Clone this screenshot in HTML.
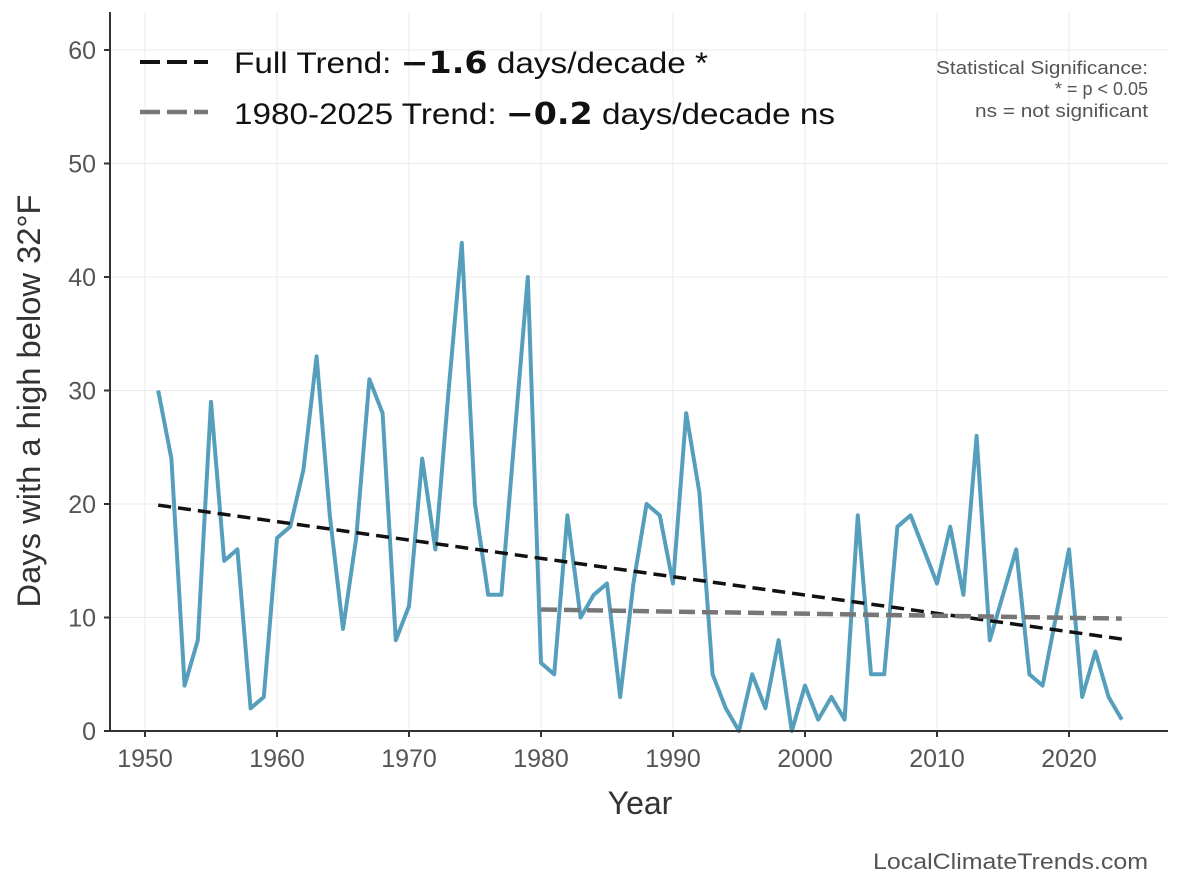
<!DOCTYPE html>
<html><head><meta charset="utf-8"><style>
body{margin:0;background:#fff}
svg{display:block;font-family:"Liberation Sans",Arial,sans-serif}
</style></head><body>
<svg id="s" width="1184" height="889" viewBox="0 0 1184 889" xmlns="http://www.w3.org/2000/svg">
<g id="grid" stroke="#ebebeb" stroke-width="1"></g>
<g id="ticks"></g>
<polyline id="data" fill="none" stroke="#559fbd" stroke-width="4" stroke-linejoin="round"/>
<line id="t1" stroke="#111" stroke-width="3.5" stroke-dasharray="13,7"/>
<line id="t2" stroke="#777" stroke-width="4.5" stroke-dasharray="16,7"/>
<line x1="110" y1="12" x2="110" y2="731" stroke="#333" stroke-width="2"/>
<line x1="110" y1="731" x2="1168" y2="731" stroke="#333" stroke-width="2"/>
<text x="640" y="814" font-size="32" fill="#333" text-anchor="middle">Year</text>
<text transform="translate(40,401) rotate(-90)" font-size="32" fill="#333" text-anchor="middle" textLength="413" lengthAdjust="spacingAndGlyphs">Days with a high below 32°F</text>
<line x1="140" y1="62" x2="208" y2="62" stroke="#111" stroke-width="4" stroke-dasharray="20,7"/>
<text x="234" y="73" font-size="30" fill="#111" textLength="474" lengthAdjust="spacingAndGlyphs">Full Trend: <tspan font-weight="bold" font-family="DejaVu Sans">−1.6</tspan> days/decade *</text>
<line x1="140" y1="112" x2="208" y2="112" stroke="#777" stroke-width="4.5" stroke-dasharray="20,7"/>
<text x="234" y="124" font-size="30" fill="#111" textLength="601" lengthAdjust="spacingAndGlyphs">1980-2025 Trend: <tspan font-weight="bold" font-family="DejaVu Sans">−0.2</tspan> days/decade ns</text>
<g font-size="18" fill="#555" text-anchor="end">
<text x="1148" y="74" textLength="212" lengthAdjust="spacingAndGlyphs">Statistical Significance:</text>
<text x="1148" y="95">* = p &lt; 0.05</text>
<text x="1148" y="117" textLength="173" lengthAdjust="spacingAndGlyphs">ns = not significant</text>
</g>
<text x="1148" y="869" font-size="22" fill="#555" text-anchor="end" textLength="275" lengthAdjust="spacingAndGlyphs">LocalClimateTrends.com</text>
</svg>
<script>
const X=y=>145+(y-1950)*13.2, Y=v=>731-v*11.35;
const d=[30,24,4,8,29,15,16,2,3,17,18,23,33,19,9,17,31,28,8,11,24,16,30,43,20,12,12,26,40,6,5,19,10,12,13,3,13,20,19,13,28,21,5,2,0,5,2,8,0,4,1,3,1,19,5,5,18,19,16,13,18,12,26,8,12,16,5,4,10,16,3,7,3,1];
document.getElementById('data').setAttribute('points',d.map((v,i)=>X(1951+i).toFixed(1)+','+Y(v).toFixed(1)).join(' '));
const ns='http://www.w3.org/2000/svg';
function el(t,a,p,txt){const e=document.createElementNS(ns,t);for(const k in a)e.setAttribute(k,a[k]);if(txt!=null)e.textContent=txt;p.appendChild(e);}
const g=document.getElementById('grid'),tk=document.getElementById('ticks');
for(let v=0;v<=60;v+=10){if(v>0)el('line',{x1:110,x2:1168,y1:Y(v),y2:Y(v)},g);
 el('line',{x1:104,x2:110,y1:Y(v),y2:Y(v),stroke:'#333','stroke-width':2},tk);
 el('text',{x:96,y:Y(v)+9,'font-size':25,fill:'#555','text-anchor':'end'},tk,v);}
for(let y=1950;y<=2020;y+=10){el('line',{x1:X(y),x2:X(y),y1:12,y2:731},g);
 el('line',{x1:X(y),x2:X(y),y1:731,y2:737,stroke:'#333','stroke-width':2},tk);
 el('text',{x:X(y),y:767,'font-size':25,fill:'#555','text-anchor':'middle'},tk,y);}
const t1=document.getElementById('t1');t1.setAttribute('x1',X(1951));t1.setAttribute('y1',Y(19.9));t1.setAttribute('x2',X(2024));t1.setAttribute('y2',Y(8.1));
const t2=document.getElementById('t2');t2.setAttribute('x1',X(1980));t2.setAttribute('y1',Y(10.7));t2.setAttribute('x2',X(2024));t2.setAttribute('y2',Y(9.9));
</script>
</body></html>
